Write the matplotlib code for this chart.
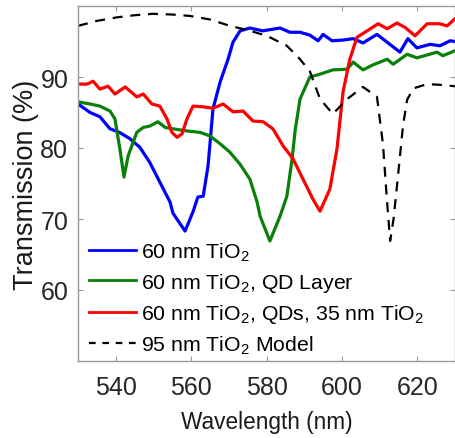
import matplotlib
matplotlib.use("Agg")
import matplotlib.pyplot as plt
from matplotlib.lines import Line2D

plt.rcParams['font.family'] = ['Liberation Sans', 'DejaVu Sans']
plt.rcParams['mathtext.default'] = 'regular'

# 60 nm TiO2
blue_x = [530, 533.2, 535.8, 538.5, 541, 543.8, 546.4, 549, 551.7, 554.4, 555.2, 558.4,
          560.5, 561.8, 563.2, 564.5, 565.8, 567.7, 569.8, 571.1, 573, 575.6, 579, 583.6,
          586.2, 588.9, 591.5, 593.7, 595, 597.4, 600.3, 603, 605.6, 609.3, 612, 615.4,
          617.5, 619.9, 623.4, 626, 628.7, 630]
blue_y = [86.2, 85, 84.4, 82.7, 82.2, 81.3, 80.1, 78, 75.2, 72.4, 70.8, 68.3,
          71, 73.1, 73.2, 77.5, 85.5, 89.3, 92.5, 94.9, 96.5, 96.9, 96.5, 96.9,
          96.3, 96.3, 95.9, 95.1, 96, 95.1, 95.2, 95.4, 94.8, 96, 94.9, 93.5,
          95.4, 94.1, 94.6, 94.4, 95.1, 95]

# 60 nm TiO2, QD layer
green_x = [530, 533.2, 535.8, 538.5, 539.8, 541.1, 542.2, 543.3, 545.6, 547.3, 549.1,
           551.2, 553.1, 555.2, 558.9, 562.4, 565, 567.7, 570.3, 573, 575.6, 577.5,
           578.3, 580.9, 583.6, 585.4, 586.8, 587.6, 588.9, 591.5, 594.2, 597.6, 601.4,
           603, 605.6, 608.2, 612, 613.6, 617.3, 619.9, 622.6, 625.2, 626.8, 630]
green_y = [86.5, 86.2, 85.9, 85.2, 84.1, 79.9, 75.9, 78.9, 82.2, 82.9, 83.1,
           83.7, 82.9, 82.7, 82.4, 82.2, 81.7, 80.6, 79.4, 77.7, 75.6, 72.4,
           70.4, 66.9, 70.4, 73.2, 78.5, 82.5, 86.9, 90, 90.4, 91, 91.1,
           92.1, 91, 91.7, 92.5, 91.8, 93.2, 92.7, 93.1, 93.5, 93, 93.7]

# 60 nm TiO2, QDs, 35 nm TiO2
red_x = [530, 532.4, 534, 535.8, 538, 539.8, 542.5, 545.6, 547.3, 549.6, 551.7, 553.6,
         554.9, 556.3, 557.6, 558.9, 560.5, 563.2, 565.8, 568.5, 571.1, 573.8, 576.4,
         579.1, 581.7, 584.4, 587, 589.7, 592.3, 594.2, 596.8, 598.7, 600.3, 602.1,
         604, 606.7, 609.6, 612, 614.6, 616.7, 619.4, 622.6, 626, 627.9, 630]
red_y = [89, 89, 89.4, 88.3, 88.7, 87.6, 88.6, 87.2, 87.6, 86.2, 85.9, 84.1,
         82.2, 81.5, 82, 84.1, 85.9, 85.8, 85.6, 86.2, 85.1, 85.2, 83.8,
         83.7, 82.7, 80.3, 78.5, 75.6, 72.8, 71.1, 74.2, 79.9, 87.9, 92.5,
         95.6, 96.5, 97.5, 96.8, 97.6, 97, 95.8, 97.5, 97.5, 97.2, 98.2]

# 95 nm TiO2 model
model_x = [530, 535, 540.3, 545, 549.9, 555, 559.7, 565, 570.3, 575, 580.1, 585.4, 588.9,
           591.5, 594.2, 597.6, 601.4, 605.6, 609.3, 610.9, 611.9, 612.8, 613.7, 614.6,
           616.2, 617.3, 619, 622.6, 626, 630]
model_y = [97.2, 97.9, 98.4, 98.7, 98.9, 98.8, 98.6, 98.1, 97.2, 96.6, 95.8, 94.4, 92.5,
           90.8, 86.9, 84.8, 86.9, 88.6, 87.2, 80.5, 73, 66.9, 70, 74.6,
           83.1, 86.8, 88.4, 89, 88.9, 88.7]

labels = ['60 nm TiO$_2$', '60 nm TiO$_2$, QD Layer',
          '60 nm TiO$_2$, QDs, 35 nm TiO$_2$', '95 nm TiO$_2$ Model']
x_ticks = [540, 560, 580, 600, 620]
y_ticks = [60, 70, 80, 90]

fig = plt.figure(figsize=(4.55, 4.39), dpi=100)
ax = fig.add_axes([78/455, 1-362/439, 377/455, 355/439])

c_blue, c_green, c_red = '#0000ff', '#0a800a', '#ff0000'
ax.plot(blue_x, blue_y, color=c_blue, lw=2.3)
ax.plot(green_x, green_y, color=c_green, lw=2.3)
ax.plot(red_x, red_y, color=c_red, lw=2.3)
ax.plot(model_x, model_y, color='black', lw=1.6, dashes=(4.5, 3.5))

ax.set_xlim(530, 630)
ax.set_ylim(50, 100)
ax.set_xticks(x_ticks)
ax.set_yticks(y_ticks)
ax.tick_params(direction='in', length=3.5, width=0.8, color='#999999',
               top=True, right=True, labelsize=18, labelcolor='#262626')
ax.tick_params(axis='x', pad=10)
ax.tick_params(axis='y', pad=7)
for s in ax.spines.values():
    s.set_color('#999999')
    s.set_linewidth(1.0)

ax.set_xlabel('Wavelength (nm)', fontsize=16.3, color='#1a1a1a', labelpad=8)
ax.set_ylabel('Transmission (%)', fontsize=19.5, color='#1a1a1a', labelpad=1)

handles = [Line2D([], [], color=c_blue, lw=2.0),
           Line2D([], [], color=c_green, lw=2.0),
           Line2D([], [], color=c_red, lw=2.0),
           Line2D([], [], color='black', lw=1.6, dashes=(3, 3))]
ax.legend(handles, labels, loc='lower left', bbox_to_anchor=(0.016, 0.0),
          frameon=False, fontsize=15.3, handlelength=2.2, handletextpad=0.25,
          labelspacing=0.39, borderaxespad=0.1, borderpad=0.15)

fig.savefig('out.png', dpi=100)
